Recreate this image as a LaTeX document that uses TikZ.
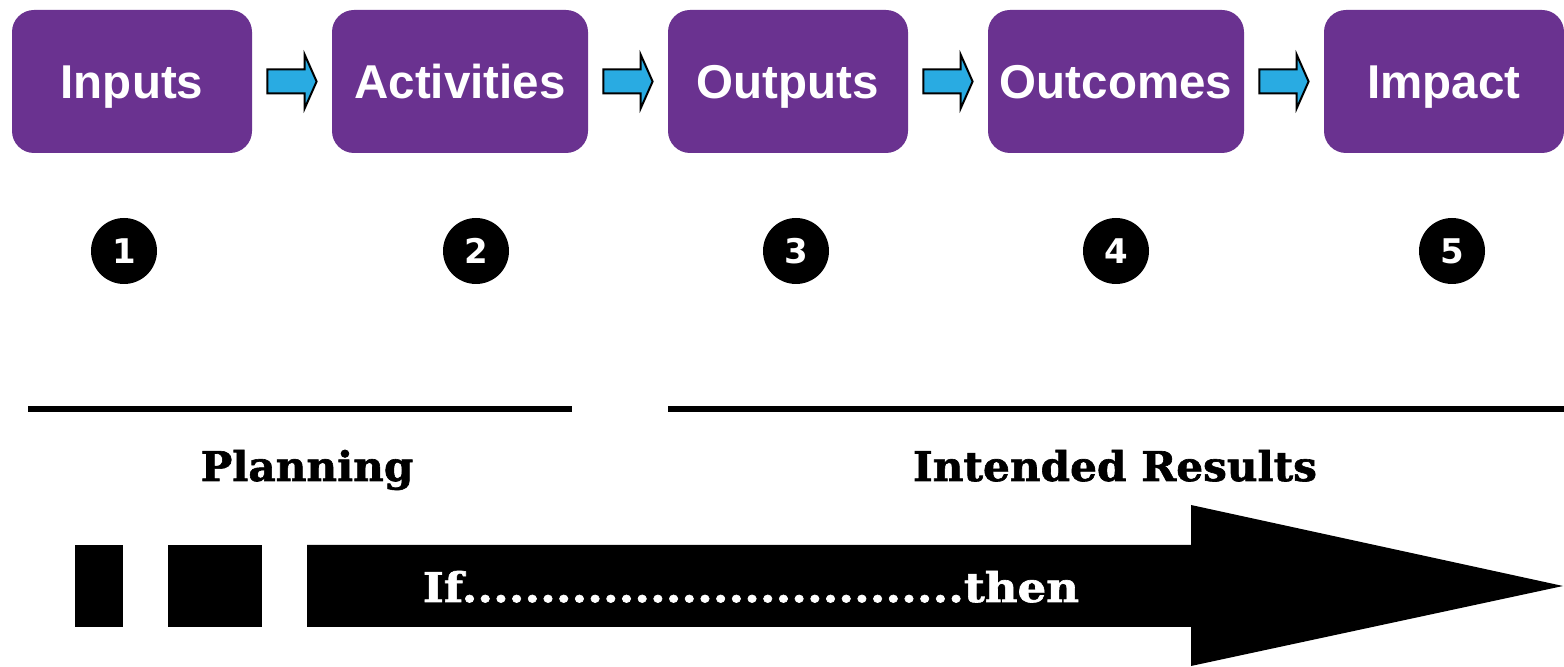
\documentclass[tikz,border=0pt]{standalone}
\usepackage{fontspec}
\setmainfont{Liberation Sans}
\newfontfamily\slabfont{DejaVu Serif}[FakeStretch=1.03, FakeBold=1.5]
\newfontfamily\ifthenfont{DejaVu Serif}[FakeStretch=1.10, FakeBold=1.5]
\newfontfamily\numfont{DejaVu Sans}
\usetikzlibrary{calc}
\definecolor{boxpurple}{RGB}{106,50,144}
\definecolor{flowblue}{RGB}{41,171,226}
\begin{document}
\begin{tikzpicture}[x=0.5pt,y=-0.5pt]
\useasboundingbox (0,0) rectangle (1564,667);
\tikzset{
  stage/.style={fill=boxpurple, rounded corners=11pt, minimum height=71.5pt,
    inner sep=0pt, text height=17pt, text depth=0pt, text=white,
    font=\bfseries\fontsize{23.75}{28}\selectfont},
  flowarrow/.style={fill=flowblue, draw=black, line width=1pt, line join=miter},
  marker/.style={circle, fill=black, minimum size=33pt, inner sep=0pt,
    text=white, font=\numfont\bfseries\fontsize{17}{20}\selectfont},
  rule/.style={line width=3pt},
  phase/.style={anchor=base, inner sep=0pt, font=\slabfont\bfseries\fontsize{20.5}{24}\selectfont},
}
% the five stages of the logic model
\node[stage, minimum width=120pt] (inputs)     at (132,81.5)  {Inputs};
\node[stage, minimum width=128pt] (activities) at (460,81.5)  {Activities};
\node[stage, minimum width=120pt] (outputs)    at (788,81.5)  {Outputs};
\node[stage, minimum width=128pt] (outcomes)   at (1116,81.5) {Outcomes};
\node[stage, minimum width=120pt] (impact)     at (1444,81.5) {Impact};
% block arrows between consecutive stages
\foreach \a/\b in {inputs/activities, activities/outputs, outputs/outcomes, outcomes/impact}{
  \draw[flowarrow] ($(\a.east)+(15,-12)$) -- ($(\b.west)+(-27,-12)$)
    -- ($(\b.west)+(-27,-27)$) -- ($(\b.west)+(-15,0)$)
    -- ($(\b.west)+(-27,27)$) -- ($(\b.west)+(-27,12)$)
    -- ($(\a.east)+(15,12)$) -- cycle;
}
% numbered markers
\node[marker] (n1) at (124,251)  {1};
\node[marker] (n2) at (476,251)  {2};
\node[marker] (n3) at (796,251)  {3};
\node[marker] (n4) at (1116,251) {4};
\node[marker] (n5) at (1452,251) {5};
% phase rules and labels
\coordinate (pl) at (28,409);  \coordinate (pr) at (572,409);
\coordinate (rl) at (668,409); \coordinate (rr) at (1564,409);
\draw[rule] (pl) -- (pr);
\draw[rule] (rl) -- (rr);
\node[phase] (planning) at (307,481) {Planning};
\node[phase] (results)  at (1115,481) {Intended Results};
% if ... then arrow
\fill (75,545) rectangle (123,627);
\fill (168,545) rectangle (262,627);
\fill (307,545) -- (1191,545) -- (1191,505) -- (1563,586) -- (1191,666)
  -- (1191,627) -- (307,627) -- cycle;
\node[phase, text=white, font=\ifthenfont\bfseries\fontsize{20.5}{24}\selectfont] (ifthen)
  at (751,602) {If................................then};
\end{tikzpicture}
\end{document}
